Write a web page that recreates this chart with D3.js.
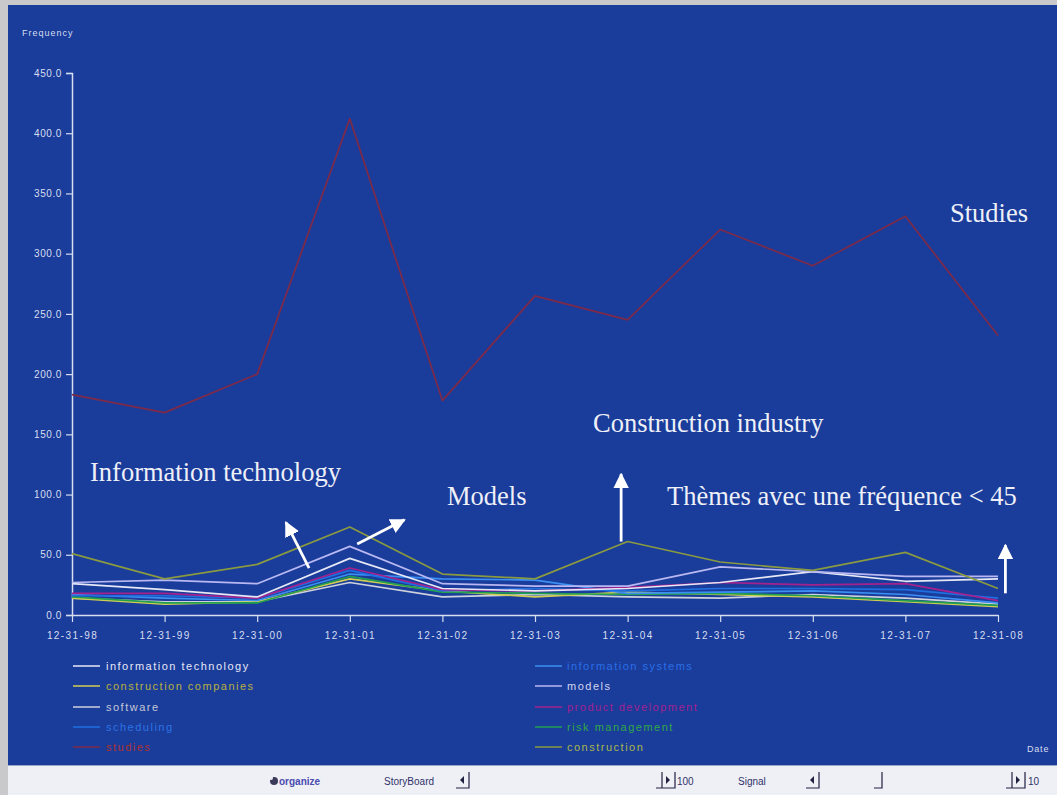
<!DOCTYPE html>
<html>
<head>
<meta charset="utf-8">
<script src="https://cdn.jsdelivr.net/npm/d3@7"></script>
<style>
  html, body { margin: 0; padding: 0; background: #d4d4d8; }
  svg { display: block; }
</style>
</head>
<body>
<svg id="chart" width="1057" height="795"></svg>
<script>
// ---------------- DATA ----------------
const dates = ["12-31-98","12-31-99","12-31-00","12-31-01","12-31-02","12-31-03","12-31-04","12-31-05","12-31-06","12-31-07","12-31-08"];
const yTicks = [0, 50, 100, 150, 200, 250, 300, 350, 400, 450];

const studies               = [183, 168, 200, 412, 178, 265, 245, 320, 290, 331, 232];
const construction          = [51, 30, 42, 73, 34, 30, 61, 44, 37, 52, 22];
const models                = [27, 29, 26, 57, 26, 24, 24, 40, 36, 32, 32];
const informationTechnology = [26, 21, 15, 47, 22, 20, 22, 27, 36, 28, 30];
const productDevelopment    = [18, 18, 14, 39, 21, 20, 23, 27, 25, 26, 12];
const scheduling            = [16, 16, 14, 37, 20, 22, 20, 22, 22, 21, 14];
const informationSystems    = [17, 14, 12, 34, 30, 29, 18, 19, 20, 17, 10];
const riskManagement        = [15, 10, 10, 32, 19, 18, 17, 18, 16, 12, 8];
const constructionCompanies = [14, 9, 11, 30, 20, 15, 19, 17, 15, 11, 7];
const software              = [14, 11, 11, 27, 15, 17, 15, 14, 17, 14, 9];

// legend order (two columns)
const legendLeft  = ["information technology", "construction companies", "software", "scheduling", "studies"];
const legendRight = ["information systems", "models", "product development", "risk management", "construction"];

// annotations: [text, x(px), baseline y(px)]
const labels = [
  ["Studies", 950, 222],
  ["Construction industry", 593, 432],
  ["Information technology", 90, 481],
  ["Models", 447, 505],
  ["Thèmes avec une fréquence < 45", 667, 505]
];
// arrows in data units: [fromIndex, fromValue, toIndex, toValue]
const arrows = [
  [2.56, 39, 2.31, 77],
  [3.08, 59, 3.59, 79],
  [5.93, 61, 5.93, 117],
  [10.08, 18, 10.08, 58]
];

// ---------------- SETUP ----------------
const series = [
  {name: "information technology", values: informationTechnology, color: "#e6e8f6", text: "#e6e8f6"},
  {name: "construction companies", values: constructionCompanies, color: "#d2cc52", text: "#b8b040"},
  {name: "software",               values: software,              color: "#cfd2dc", text: "#c4c8d8"},
  {name: "scheduling",             values: scheduling,            color: "#1f6fe0", text: "#2c74e6"},
  {name: "studies",                values: studies,               color: "#7e2a48", text: "#b03030"},
  {name: "information systems",    values: informationSystems,    color: "#3b8ff2", text: "#2a6fe8"},
  {name: "models",                 values: models,                color: "#b9b8f2", text: "#d4d4f0"},
  {name: "product development",    values: productDevelopment,    color: "#a4228e", text: "#a42090"},
  {name: "risk management",        values: riskManagement,        color: "#22a050", text: "#30a848"},
  {name: "construction",           values: construction,          color: "#8a9a40", text: "#a8b848"}
];
const byName = Object.fromEntries(series.map(s => [s.name, s]));

const svg = d3.select("#chart");
const W = 1057, H = 795;

// frame
svg.append("rect").attr("x", 0).attr("y", 0).attr("width", W).attr("height", H).attr("fill", "#c9c9cc");
svg.append("rect").attr("x", 8).attr("y", 5).attr("width", W - 8).attr("height", 760).attr("fill", "#1a3c9a");
// bottom bar
svg.append("rect").attr("x", 8).attr("y", 765).attr("width", W - 8).attr("height", 30).attr("fill", "#eef0f6");
svg.append("line").attr("x1", 8).attr("x2", W).attr("y1", 765.5).attr("y2", 765.5).attr("stroke", "#9aa6c8").attr("stroke-width", 1);

const x = d3.scaleLinear().domain([0, dates.length - 1]).range([72, 998]);
const y = d3.scaleLinear().domain([0, 450]).range([615, 73]);

const axisColor = "#d8def0";
const g = svg.append("g");

// y axis
const yAxis = g.append("g").attr("transform", "translate(72,0)")
  .call(d3.axisLeft(y).tickValues(yTicks).tickFormat(d3.format(".1f")).tickSize(6).tickPadding(4));
yAxis.select(".domain").attr("stroke", axisColor).attr("stroke-width", 1.5);
yAxis.selectAll(".tick line").attr("stroke", axisColor).attr("stroke-width", 1.2);
yAxis.selectAll(".tick text").attr("fill", axisColor).attr("font-family", "Liberation Sans, Arial, sans-serif")
  .attr("font-size", 10).attr("letter-spacing", 0.6);

// x axis
const xAxis = g.append("g").attr("transform", "translate(0,615)")
  .call(d3.axisBottom(x).tickValues(d3.range(dates.length)).tickFormat(i => dates[i]).tickSize(7).tickSizeOuter(0).tickPadding(10));
xAxis.select(".domain").attr("stroke", axisColor).attr("stroke-width", 1.5);
xAxis.selectAll(".tick line").attr("stroke", axisColor).attr("stroke-width", 1.2);
xAxis.selectAll(".tick text").attr("fill", axisColor).attr("font-family", "Liberation Sans, Arial, sans-serif")
  .attr("font-size", 10).attr("letter-spacing", 1.4);

// axis titles
svg.append("text").attr("x", 22).attr("y", 36).text("Frequency")
  .attr("fill", axisColor).attr("font-family", "Liberation Sans, Arial, sans-serif").attr("font-size", 9).attr("letter-spacing", 1);
svg.append("text").attr("x", 1027).attr("y", 752).text("Date")
  .attr("fill", axisColor).attr("font-family", "Liberation Sans, Arial, sans-serif").attr("font-size", 9).attr("letter-spacing", 0.8);

// lines (draw low-priority first, studies & construction on top)
const line = d3.line().x((d, i) => x(i)).y(d => y(d));
const drawOrder = ["software", "construction companies", "risk management", "information systems", "scheduling",
  "product development", "information technology", "models", "construction", "studies"];
g.selectAll("path.series").data(drawOrder.map(n => byName[n])).join("path")
  .attr("class", "series")
  .attr("d", s => line(s.values))
  .attr("fill", "none")
  .attr("stroke", s => s.color)
  .attr("stroke-width", 1.7)
  .attr("stroke-linejoin", "round");

// legend
function legendCol(names, lx, tx) {
  const rows = [666, 686, 707, 727, 747];
  names.forEach((n, i) => {
    const s = byName[n];
    svg.append("line").attr("x1", lx).attr("x2", lx + 27).attr("y1", rows[i]).attr("y2", rows[i])
      .attr("stroke", s.color).attr("stroke-width", 1.5);
    svg.append("text").attr("x", tx).attr("y", rows[i] + 4).text(n)
      .attr("fill", s.text).attr("font-family", "Liberation Sans, Arial, sans-serif")
      .attr("font-size", 11).attr("letter-spacing", 1.5);
  });
}
legendCol(legendLeft, 73, 106);
legendCol(legendRight, 535, 567);

// annotations
svg.selectAll("text.annot").data(labels).join("text").attr("class", "annot")
  .attr("x", d => d[1]).attr("y", d => d[2]).text(d => d[0])
  .attr("fill", "#eef0f8").attr("font-family", "Liberation Serif, Times New Roman, serif").attr("font-size", 26.5);

// arrows
const defs = svg.append("defs");
defs.append("marker").attr("id", "ah").attr("viewBox", "0 0 10 10").attr("refX", 9).attr("refY", 5)
  .attr("markerWidth", 5.5).attr("markerHeight", 5.5).attr("markerUnits", "strokeWidth").attr("orient", "auto")
  .append("path").attr("d", "M0,0 L10,5 L0,10 z").attr("fill", "#ffffff");
svg.selectAll("line.arrow").data(arrows).join("line").attr("class", "arrow")
  .attr("x1", d => x(d[0])).attr("y1", d => y(d[1])).attr("x2", d => x(d[2])).attr("y2", d => y(d[3]))
  .attr("stroke", "#ffffff").attr("stroke-width", 2.8).attr("marker-end", "url(#ah)");

// ---------------- bottom toolbar ----------------
const tb = svg.append("g").attr("font-family", "Liberation Sans, Arial, sans-serif").attr("font-size", 10);
// organize icon
tb.append("circle").attr("cx", 274).attr("cy", 781).attr("r", 4).attr("fill", "#3a3a5a");
tb.append("circle").attr("cx", 271).attr("cy", 778).attr("r", 2).attr("fill", "#eef0f6");
tb.append("text").attr("x", 279).attr("y", 785).text("organize").attr("fill", "#4a4ab0").attr("font-weight", "bold");
tb.append("text").attr("x", 384).attr("y", 785).text("StoryBoard").attr("fill", "#30306a");
tb.append("text").attr("x", 738).attr("y", 785).text("Signal").attr("fill", "#30306a");
tb.append("text").attr("x", 677).attr("y", 785).text("100").attr("fill", "#30306a");
tb.append("text").attr("x", 1028).attr("y", 785).text("10").attr("fill", "#30306a");

function btn(bx, dir) {
  const gg = tb.append("g");
  if (dir < 0) {
    gg.append("path").attr("d", `M${bx+4},780 L${bx+8},776 L${bx+8},784 z`).attr("fill", "#202040");
    gg.append("path").attr("d", `M${bx+13},772 L${bx+13},788 L${bx},788`).attr("fill", "none").attr("stroke", "#202040").attr("stroke-width", 1.2);
  } else {
    gg.append("path").attr("d", `M${bx+8},780 L${bx+4},776 L${bx+4},784 z`).attr("fill", "#202040");
    gg.append("path").attr("d", `M${bx+13},772 L${bx+13},788 L${bx-6},788`).attr("fill", "none").attr("stroke", "#202040").attr("stroke-width", 1.2);
    gg.append("line").attr("x1", bx).attr("x2", bx).attr("y1", 772).attr("y2", 788).attr("stroke", "#202040").attr("stroke-width", 1.2);
  }
}
btn(456, -1);
btn(662, 1);
btn(806, -1);
btn(1012, 1);
tb.append("path").attr("d", "M882,772 L882,788 L874,788").attr("fill", "none").attr("stroke", "#202040").attr("stroke-width", 1.2);
</script>
</body>
</html>
